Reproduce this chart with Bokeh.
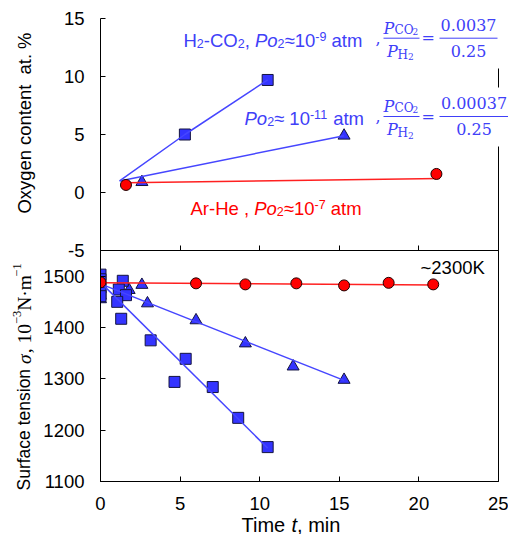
from math import pi
from bokeh.plotting import figure
from bokeh.layouts import column
from bokeh.models import Range1d, FixedTicker, LinearAxis, Label, Arrow
from bokeh.embed import file_html
from bokeh.resources import INLINE

# ---------------- data ----------------
x_ticks = [0, 5, 10, 15, 20, 25]
top_y_ticks = [-5, 0, 5, 10, 15]
bot_y_ticks = [1100, 1200, 1300, 1400, 1500]

# oxygen content (top panel)
o_sq_t = [5.3, 10.5]
o_sq = [5.0, 9.7]
o_tri_t = [2.6, 15.3]
o_tri = [0.9, 4.9]
o_cir_t = [1.6, 21.1]
o_cir = [0.65, 1.6]
o_sq_fit_t = [1.2, 5.3, 10.5]
o_sq_fit = [1.0, 5.0, 9.7]
o_tri_fit_t = [1.2, 15.3]
o_tri_fit = [1.0, 4.9]
o_cir_fit_t = [1.6, 21.3]
o_cir_fit = [0.85, 1.2]

# surface tension (bottom panel)
s_cir_t = [0, 6.0, 9.1, 12.3, 15.3, 18.1, 20.9]
s_cir = [1488, 1486, 1484, 1486, 1482, 1487, 1484]
s_cir_fit_t = [0, 21.0]
s_cir_fit = [1487, 1483]
s_tri_t = [0, 0, 1.8, 2.6, 2.95, 6.0, 9.1, 12.1, 15.3]
s_tri = [1455, 1462, 1473, 1483, 1447, 1414, 1369, 1324, 1298]
s_tri_fit_t = [0, 15.3]
s_tri_fit = [1485, 1297]
s_sq_t = [0, 0, 0, 0, 0, 1.4, 1.15, 1.6, 1.05, 1.3, 3.15, 5.35, 4.65, 7.05, 8.65, 10.5]
s_sq = [1503, 1494, 1478, 1468, 1461, 1491, 1474, 1463, 1450, 1417, 1375, 1339, 1294, 1284, 1224, 1167]
s_sq_fit_t = [0, 10.5]
s_sq_fit = [1488, 1165]

# ---------------- style ----------------
W, H = 508, 534
BLUE = "#3434FF"
BLUE_LINE = "#4646FF"
BLUE_TXT = "#4040F8"
RED = "#FF0000"
SANS = "Liberation Sans"
SERIF = "DejaVu Serif"
TSERIF = "Liberation Serif"
TICK_FS = "18.5px"
FIX = 5.5   # empirical baseline correction of Label placement

AW = {' ': 278, ',': 278, '.': 278, '-': 333, '%': 889, '~': 584, '≈': 549,
      'A': 667, 'C': 722, 'H': 722, 'K': 667, 'O': 778, 'P': 667, 'S': 667,
      'T': 611, 'N': 722, 'a': 556, 'c': 500, 'e': 556, 'f': 278, 'g': 556,
      'i': 222, 'm': 833, 'n': 556, 'o': 556, 'r': 333, 's': 500, 't': 278,
      'u': 556, 'x': 500, 'y': 500}
for d in "0123456789":
    AW[d] = 556
TWD = {'σ': 550, ',': 250, ' ': 250, 'N': 722, '·': 250, 'm': 778, '−': 564}
for d in "0123456789":
    TWD[d] = 500


def tw(s, size, table=AW):
    return sum(table.get(c, 556) for c in s) * size / 1000.0


def base_fig(**kw):
    f = figure(width=W, height=H, output_backend="svg", toolbar_location=None, **kw)
    f.border_fill_alpha = 0
    f.background_fill_alpha = 0
    f.outline_line_color = None
    return f


def style_axes(fig):
    fig.xgrid.visible = False
    fig.ygrid.visible = False
    for ax in list(fig.xaxis) + list(fig.yaxis):
        ax.major_tick_in = 5
        ax.major_tick_out = 0
        ax.minor_tick_line_color = None
        ax.axis_line_color = "black"
        ax.major_tick_line_color = "black"
        ax.major_label_text_font = SANS
        ax.major_label_text_font_size = TICK_FS
        ax.major_label_text_color = "black"
    fig.yaxis.major_label_standoff = 16
    fig.xaxis.major_label_standoff = 15


# ---------------- top panel (frame 100..498 x 18..250) ----------------
top = base_fig(x_range=Range1d(0, 25), y_range=Range1d(-5, 15),
               min_border_left=100, min_border_right=10, min_border_top=18,
               min_border_bottom=284)
style_axes(top)
top.xaxis.ticker = FixedTicker(ticks=x_ticks)
top.xaxis.major_label_text_color = None
top.yaxis.ticker = FixedTicker(ticks=top_y_ticks)
top.yaxis.major_label_overrides = {-5: "-5"}
for b in [(-5, 3.97), (9.05, 10.7)]:
    ra = LinearAxis(bounds=b, ticker=FixedTicker(ticks=[]),
                    major_tick_line_color=None, minor_tick_line_color=None,
                    major_label_text_color=None, axis_line_color="black")
    top.add_layout(ra, "right")

top.scatter(o_tri_t, o_tri, marker="triangle", size=12, fill_color=BLUE,
            line_color="#141440", line_width=1)
top.scatter(o_sq_t, o_sq, marker="square", size=11, fill_color=BLUE,
            line_color="#141440", line_width=1)
top.line(o_sq_fit_t, o_sq_fit, line_color=BLUE_LINE, line_width=1.5)
top.line(o_tri_fit_t, o_tri_fit, line_color=BLUE_LINE, line_width=1.5)
top.line(o_cir_fit_t, o_cir_fit, line_color="#FF2020", line_width=1.5)
top.scatter(o_cir_t, o_cir, marker="circle", size=11, fill_color=RED,
            line_color="#200000", line_width=1)

# ---------------- bottom panel (frame 100..498 x 250..481) ----------------
bot = base_fig(x_range=Range1d(0, 25), y_range=Range1d(1100, 1550),
               min_border_left=100, min_border_right=10, min_border_top=250,
               min_border_bottom=53)
bot.outline_line_color = "black"
bot.outline_line_alpha = 1.0
style_axes(bot)
bot.xaxis.ticker = FixedTicker(ticks=x_ticks)
bot.yaxis.ticker = FixedTicker(ticks=bot_y_ticks)
bot.margin = (-H, 0, 0, 0)

bot.scatter(s_tri_t, s_tri, marker="triangle", size=12, fill_color=BLUE,
            line_color="#141440", line_width=1)
bot.scatter(s_sq_t, s_sq, marker="square", size=11, fill_color=BLUE,
            line_color="#141440", line_width=1)
bot.line(s_sq_fit_t, s_sq_fit, line_color=BLUE_LINE, line_width=1.5)
bot.line(s_tri_fit_t, s_tri_fit, line_color=BLUE_LINE, line_width=1.5)
bot.line(s_cir_fit_t, s_cir_fit, line_color="#FF2020", line_width=1.5)
bot.scatter(s_cir_t, s_cir, marker="circle", size=11, fill_color=RED,
            line_color="#200000", line_width=1)

# ---------------- text layer (whole canvas, page pixel coordinates) ----------------
ov = base_fig(x_range=Range1d(0, W), y_range=Range1d(0, H),
              x_axis_type=None, y_axis_type=None, min_border=0)
ov.xgrid.visible = False
ov.ygrid.visible = False


def add_text(px, py, text, size, color="black", font=SANS, style="normal",
             align="left", angle=0.0):
    if angle:
        px = px - FIX
    else:
        py = py - FIX
    ov.add_layout(Label(x=px, y=H - py, text=text, text_font=font,
                        text_font_size=f"{size}px", text_font_style=style,
                        text_color=color, text_align=align,
                        text_baseline="alphabetic", angle=angle))


def add_run(px, py, parts, color):
    x = px
    for text, size, style, dy in parts:
        lead = len(text) - len(text.lstrip(' '))
        core = text.strip(' ')
        if core:
            add_text(x + tw(' ' * lead, size), py - dy, core, size, color, SANS, style)
        x += tw(text, size)


def bar(x0, x1, py, color):
    ov.add_layout(Arrow(start=None, end=None, x_start=x0, y_start=H - py,
                        x_end=x1, y_end=H - py, line_color=color, line_width=1))


sub, sup = -3.5, 3.5
add_run(183, 45,
        [("H", 18.5, "normal", 0), ("2", 12.5, "normal", sub),
         ("-CO", 18.5, "normal", 0), ("2", 12.5, "normal", sub),
         (", ", 18.5, "normal", 0), ("Po", 18.5, "italic", 0),
         ("2", 12.5, "normal", sub), ("≈10", 18.5, "normal", 0),
         ("-9", 12.5, "normal", sup), (" atm", 18.5, "normal", 0)], BLUE_TXT)
add_run(244, 123,
        [("Po", 18.5, "italic", 0), ("2", 12.5, "normal", sub),
         ("≈ 10", 18.5, "normal", 0), ("-11", 12.5, "normal", sup),
         (" atm", 18.5, "normal", 0)], BLUE_TXT)
add_run(190, 213,
        [("Ar-He , ", 18.5, "normal", 0), ("Po", 18.5, "italic", 0),
         ("2", 12.5, "normal", sub), ("≈10", 18.5, "normal", 0),
         ("-7", 12.5, "normal", sup), (" atm", 18.5, "normal", 0)], RED)
add_run(420, 272, [("~2300K", 18.5, "normal", 0)], "black")

# pressure-ratio fractions
for dy, num, nbar_end, ncenter in [(0.0, "0.0037", 497, 468), (78.3, "0.00037", 508, 473.5)]:
    add_text(375, 43 + dy, ",", 16, BLUE_TXT, SERIF)
    add_text(383, 33.3 + dy, "P", 16, BLUE_TXT, SERIF, "italic")
    add_text(394, 35 + dy, "CO", 12, BLUE_TXT, SERIF)
    add_text(412, 36.5 + dy, "2", 9, BLUE_TXT, SERIF)
    bar(383, 419, 37.7 + dy, BLUE_TXT)
    add_text(386.5, 56 + dy, "P", 16, BLUE_TXT, SERIF, "italic")
    add_text(397, 60 + dy, "H", 12, BLUE_TXT, SERIF)
    add_text(407.5, 61.7 + dy, "2", 9, BLUE_TXT, SERIF)
    add_text(421, 42.7 + dy, "=", 16, BLUE_TXT, SERIF)
    add_text(ncenter, 29.5 + dy, num, 16, BLUE_TXT, SERIF, align="center")
    bar(439, nbar_end, 37.7 + dy, BLUE_TXT)
    add_text(ncenter, 56 + dy, "0.25", 16, BLUE_TXT, SERIF, align="center")

# x-axis title
add_run(241, 529.5,
        [("Time ", 20, "normal", 0), ("t", 20, "italic", 0), (", min", 20, "normal", 0)],
        "black")

# y-axis titles (rotated, reading upward)
add_text(29, 122.5, "Oxygen content\u00a0 at. %", 18.4, "black", SANS,
         align="center", angle=pi / 2)

BX = 29
yb = 490.0
add_text(BX, yb, "Surface tension", 17.5, "black", SANS, "normal", "left", pi / 2)
yb -= tw("Surface tension ", 17.5)
for text, size, style, dx in [("σ", 19.5, "italic", 0), (",", 19.5, "normal", 0),
                              (" ", 19.5, "normal", 0), ("10", 19.5, "normal", 0),
                              ("−3", 12.5, "normal", 7), ("N·m", 19.5, "normal", 0),
                              ("−1", 12.5, "normal", 7)]:
    if text.strip():
        add_text(BX - dx, yb, text, size, "black", TSERIF, style, "left", pi / 2)
    yb -= tw(text, size, TWD)

panels = column(top, bot)
texts = column(ov)
texts.margin = (-H, 0, 0, 0)
layout = column(panels, texts)
open("out.html", "w").write(file_html(layout, INLINE))
